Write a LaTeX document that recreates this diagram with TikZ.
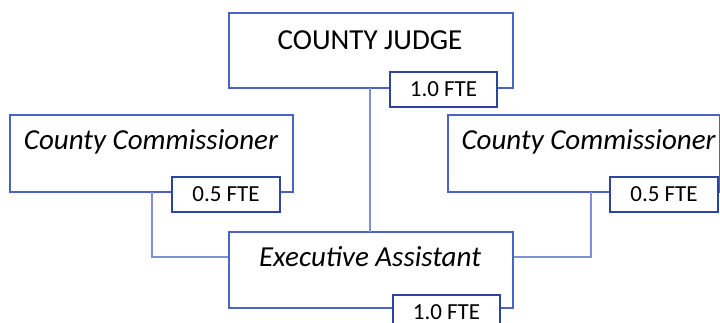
\documentclass[tikz,border=0pt]{standalone}
\usepackage{fontspec}
\setmainfont{Carlito}
\begin{document}
\begin{tikzpicture}[x=1pt,y=-1pt,
  role/.style={draw=boxblue,line width=2pt,fill=white,inner sep=0pt},
  fte/.style={draw=ftebox,line width=2.2pt,fill=white,inner sep=0pt,font=\fontsize{23}{25}\selectfont},
  title/.style={font=\fontsize{29}{32}\selectfont},
  link/.style={draw=linkblue,line width=1.7pt}]
\definecolor{boxblue}{HTML}{4A63C4}
\definecolor{ftebox}{HTML}{2E44A0}
\definecolor{linkblue}{HTML}{7F8FD8}
\useasboundingbox (0,0) rectangle (720,323);
\clip (0,0) rectangle (720,323);
% role boxes
\node[role,minimum width=284pt,minimum height=75pt] (judge) at (371,50.5) {};
\node[role,minimum width=283pt,minimum height=77pt] (comL) at (151.5,153.5) {};
\node[role,minimum width=272pt,minimum height=77pt] (comR) at (584,153.5) {};
\node[role,minimum width=284pt,minimum height=76pt] (ea) at (371,270) {};
% connectors
\coordinate (jl) at (370,88);
\coordinate (ll) at (152,192);
\coordinate (rl) at (591,192);
\draw[link] (jl) -- (370,232);
\draw[link] (ll) |- (ea.west |- 0,257);
\draw[link] (rl) |- (ea.east |- 0,257);
% texts
\node[title] (tj) at (370,40) {COUNTY JUDGE};
\node[title,font=\fontsize{29}{32}\selectfont\itshape] (tl) at (151,142) {County Commissioner};
\node[title,font=\fontsize{29}{32}\selectfont\itshape,anchor=west] (tr) at (458,142) {County Commissioner};
\node[title,font=\fontsize{29}{32}\selectfont\itshape] (te) at (370,257) {Executive Assistant};
% FTE tags
\node[fte,minimum width=107pt,minimum height=35pt] (fj) at (443.5,89.5) {1.0 FTE};
\node[fte,minimum width=108pt,minimum height=35pt] (fl) at (226,194.5) {0.5 FTE};
\node[fte,minimum width=108pt,minimum height=35pt] (fr) at (664,194.5) {0.5 FTE};
\node[fte,minimum width=107pt,minimum height=35pt] (fe) at (446.5,312.5) {1.0 FTE};
\end{tikzpicture}
\end{document}
